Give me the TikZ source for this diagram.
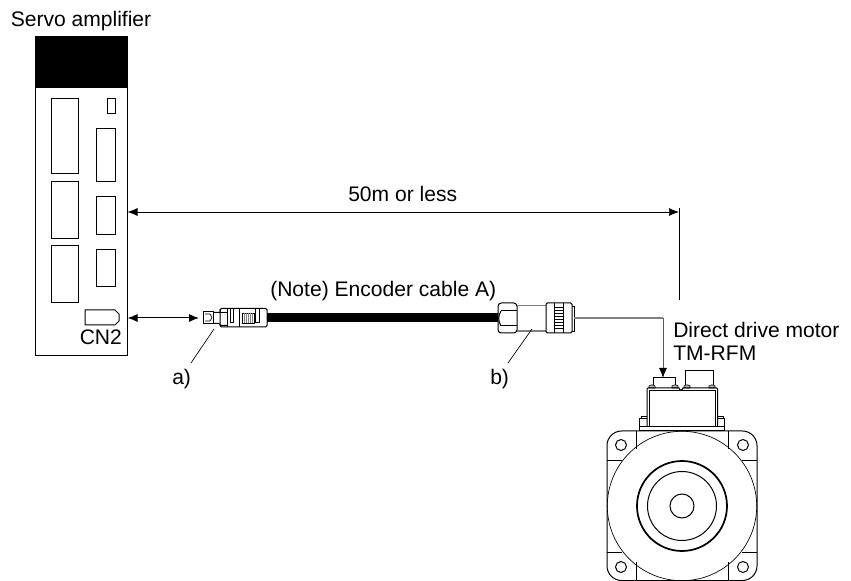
\documentclass[tikz,border=0pt]{standalone}
\usepackage{fontspec}
\setmainfont{Liberation Sans}
\usetikzlibrary{arrows.meta}
\tikzset{
  px/.style={x=0.75pt,y=-0.75pt},
  ln/.style={line width=0.75pt,black},
  thn/.style={line width=0.5pt,black},
  label/.style={inner sep=0pt,anchor=base west,font=\fontsize{15.8pt}{18pt}\selectfont,text=black},
  tipboth/.style={{Latex[length=7.5pt,width=6pt]}-{Latex[length=7.5pt,width=6pt]}},
  tipend/.style={-{Latex[length=7.5pt,width=6pt,color=black]}},
}
\begin{document}
\begin{tikzpicture}[px]
\useasboundingbox (0,0) rectangle (851,581);
% ---- servo amplifier
\node[label] (amp) at (10.5,27) {Servo amplifier};
\fill[black] (35.5,37) rectangle (127,88);
\draw[ln] (35.7,37) rectangle (127,356);
\coordinate (ampA) at (127.5,212);
\coordinate (ampB) at (127.5,318);
\foreach \a/\b/\c/\d in {51/98.5/78/174, 51/181.5/78/238.5, 51/246/78/303, 96.3/128.7/115.7/182, 96.3/196.7/115.7/234.7, 96.3/249.5/115.7/287, 107.7/98.5/115.7/114}
  \draw[ln] (\a,\b) rectangle (\c,\d);
\draw[ln] (85,310) -- (115,310) -- (119,314) -- (119,321) -- (115,325) -- (85,325) -- cycle;
\node[label] (cn) at (79.5,345) {CN2};
% ---- dimension
\coordinate (dimR) at (679,212);
\draw[thn,tipboth] (ampA) -- (dimR);
\draw[thn] (679,208) -- (679,300);
\node[label] (dimt) at (348,202) {50m or less};
% ---- connector a
\coordinate (plugL) at (199,318);
\draw[ln,tipboth] (ampB) -- (plugL);
\draw[ln] (203,312) rectangle (213,323.5);
\draw[thn] (205,314) -- (210,314) (205,321) -- (210,321) (210,314) -- (212,317.5) -- (210,321);
\draw[ln] (213,312.5) -- (220,312.5) -- (220,309.5) (213,323.5) -- (219,323.5) -- (221,325.5) -- (227,325.5);
\draw[ln,rounded corners=1pt] (220,308.5) rectangle (267,327);
\draw[thn] (220,312.5) -- (227,312.5) -- (227,327);
\draw[thn] (227,308.5) -- (227,312.5);
\draw[ln] (230,308.5) -- (230,323) -- (233,323) -- (233,308.5);
\draw[ln] (239,308.5) -- (239,327);
\draw[thn] (242,313) rectangle (254,323);
\foreach \x in {244,246,248,250,252} \draw[line width=0.7pt,gray] (\x,313) -- (\x,323);
\draw[ln] (255,308.5) -- (255,323) -- (259,323) -- (259,308.5);
% cable
\fill[black] (267,313) rectangle (498,322);
\node[label] (cab) at (270,297) {(Note) Encoder cable A)};
% ---- connector b
\draw[ln,rounded corners=2.5pt] (498,303) rectangle (517,333);
\draw[ln] (501,311) -- (517,311) (501,326) -- (517,326);
\draw[ln] (501,311) .. controls (498,316) and (498,321) .. (501,326);
\draw[line width=0.9pt,gray] (517,305.5) -- (546,305.5) (517,331) -- (546,331);
\draw[ln,rounded corners=1pt] (546,303) rectangle (572,333);
\draw[ln] (554,303) -- (554,333) (563.5,303) -- (563.5,333);
\foreach \y in {307,310,313,316,319,322,325,328} \draw[thn] (554,\y) -- (563.5,\y);
\draw[thn] (572,306) -- (574,306) -- (574,331) -- (572,331);
% ---- motor
\coordinate (lineS) at (574,318);
\coordinate (lineB) at (663,318);
\coordinate (motorIn) at (663,378);
\draw[line width=0.9pt,gray] (lineS) -- (lineB);
\draw[line width=0.7pt,gray!70!black,tipend] (lineB) -- (motorIn);
\node[label] (dd) at (673,338) {Direct drive motor};
\node[label] (tm) at (673,360.5) {TM-RFM};
% leaders
\coordinate (la) at (214,329);
\coordinate (lb) at (532,329);
\node[label] (na) at (172,385) {a)};
\node[label] (nb) at (490,385) {b)};
\draw[thn] (la) -- (191,363);
\draw[thn] (lb) -- (508,363);
% top of motor
\draw[ln] (653,385) -- (653,378) -- (675,378) -- (675,385);
\draw[ln] (685,385) -- (685,371) -- (713,371) -- (713,385);
\foreach \x in {652,675,687,712} \draw[thn,fill=gray!55] (\x-3,388) -- (\x-3,386) -- (\x-1,385) -- (\x+1,385) -- (\x+3,386) -- (\x+3,388) -- cycle;
\draw[ln] (647,427) -- (647,389) -- (648,388) -- (679,388) -- (680,390) -- (682,390) -- (683,388) -- (716.5,388) -- (717.7,389) -- (717.7,427);
\draw[ln] (649,427) -- (649,391) -- (715.5,391) -- (715.5,427);
\draw[ln] (639.5,427) -- (724.3,427) (639.5,431) -- (724.3,431);
\draw[ln] (639.5,431) -- (639.5,419) -- (647,419) (724.3,431) -- (724.3,419) -- (717.7,419);
\draw[ln] (641,419) -- (641,417) -- (647,417) (723,419) -- (723,417) -- (717.7,417);
% body
\draw[ln,rounded corners=11pt] (607,431) rectangle (757,580.5);
\draw[thn] (682,506) circle (74.7);
\draw[line width=1.3pt] (682,506) circle (45);
\draw[ln] (682,506) circle (34.5);
\draw[ln] (682,506) circle (12);
\foreach \a/\b in {621/445,743/445,621/567,743/567} \draw[ln] (\a,\b) circle (5.5);
\draw[ln] (636,431) -- (636,449) (728,431) -- (728,449) (636,580.5) -- (636,562) (728,580.5) -- (728,562);
\draw[ln] (607,460) -- (622,460) (757,460) -- (742,460) (607,552) -- (622,552) (757,552) -- (742,552);
\end{tikzpicture}
\end{document}
